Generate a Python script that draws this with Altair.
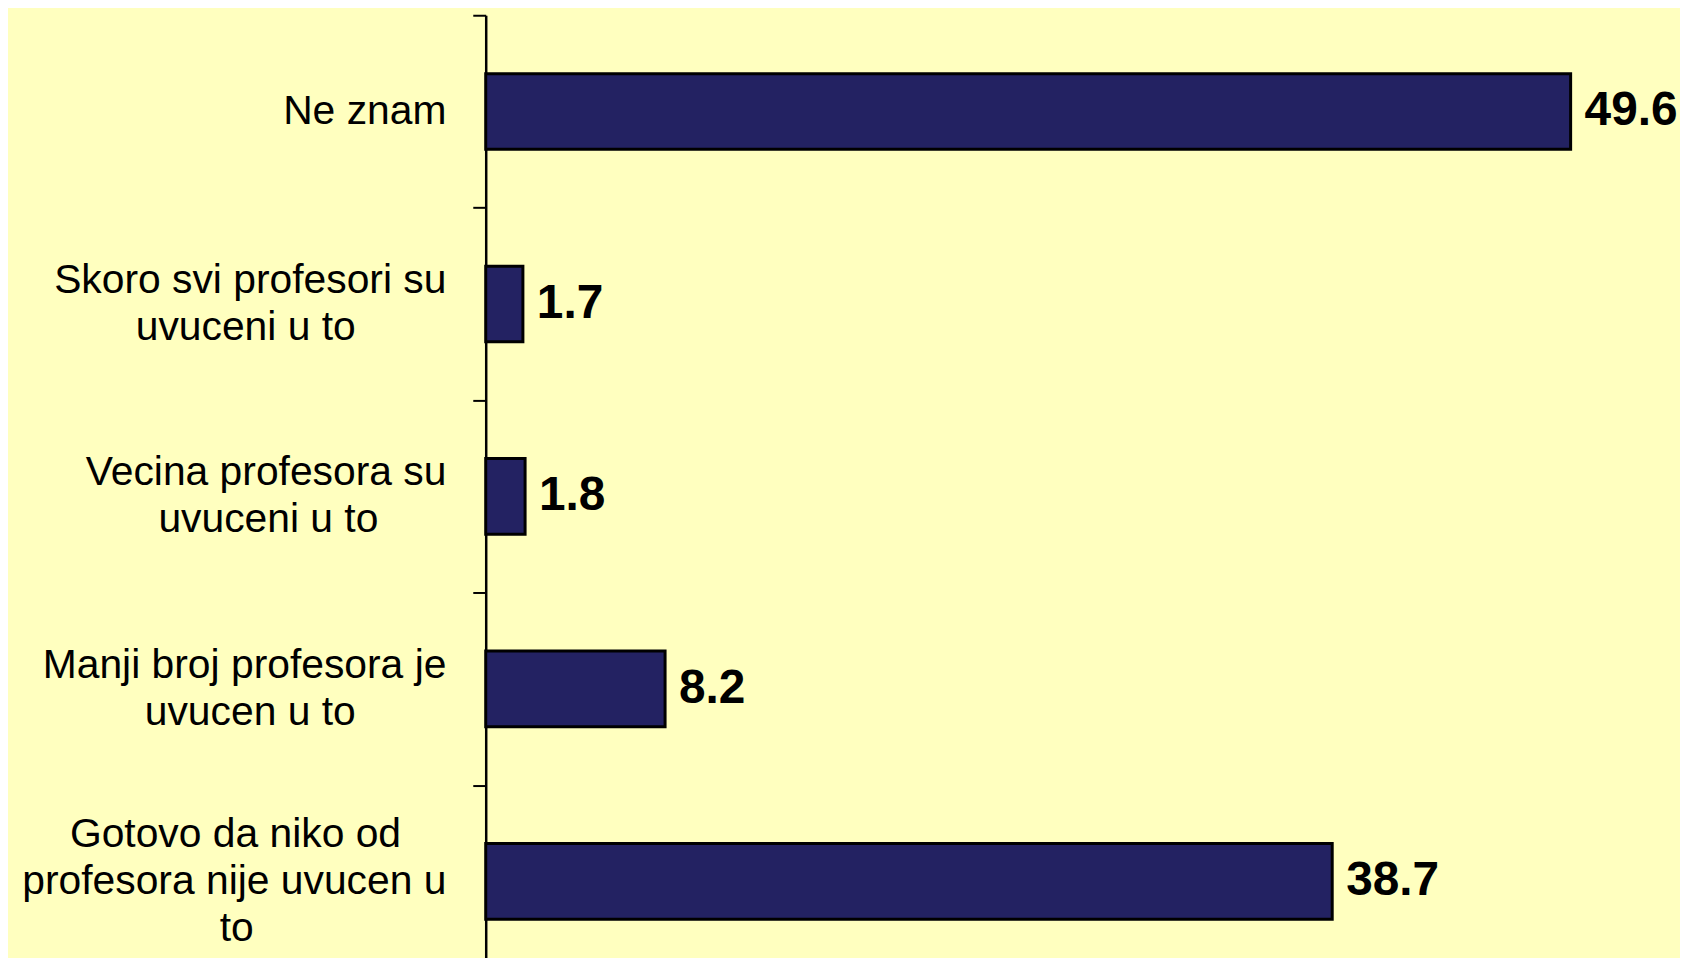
import altair as alt
import pandas as pd

# ---- data ----
cat_lines = [
    ["Ne znam"],
    ["Skoro svi profesori su", "uvuceni u to"],
    ["Vecina profesora su", "uvuceni u to"],
    ["Manji broj profesora je", "uvucen u to"],
    ["Gotovo da niko od", "profesora nije uvucen u", "to"],
]
values = [49.6, 1.7, 1.8, 8.2, 38.7]

# approximate Arial/Liberation Sans advance widths (em) used to centre
# the lines of each right-aligned axis label with non-breaking spaces
W = {" ": .278, "\u00a0": .278, "a": .556, "b": .556, "c": .5, "d": .556,
     "e": .556, "f": .278, "i": .222, "j": .222, "k": .5, "m": .833,
     "n": .556, "o": .556, "p": .556, "r": .333, "s": .5, "t": .278,
     "u": .556, "v": .5, "z": .5, "G": .778, "M": .833, "N": .722,
     "S": .667, "V": .667}


def tw(s):
    return sum(W.get(c, 0.556) for c in s)


def centred(lines):
    m = max(tw(l) for l in lines)
    out = []
    for l in lines:
        n = int(round((m - tw(l)) / 2 / 0.278))
        out.append(l + ("\u00a0" * n + "\u200b" if n else ""))
    return "|".join(out)


labels = [centred(l) for l in cat_lines]
df = pd.DataFrame({"cat": labels, "value": values})

LH = 47
y_enc = alt.Y(
    "cat:N",
    sort=labels,
    scale=alt.Scale(paddingInner=0, paddingOuter=0, range=[0, 967]),
    axis=alt.Axis(
        title=None,
        labelExpr="split(datum.label, '|')",
        labelFont="Liberation Sans",
        labelFontSize=41,
        labelColor="black",
        labelLineHeight=LH,
        labelPadding=27,
        labelLimit=0,
        labelAlign="right",
        labelBaseline="middle",
        labelOffset={
            "condition": [
                {"test": "length(split(datum.value, '|')) == 3", "value": -LH},
                {"test": "length(split(datum.value, '|')) == 2", "value": -LH / 2},
            ],
            "value": 0,
        },
        tickSize=13,
        tickWidth=2,
        tickColor="black",
        domainColor="black",
        domainWidth=2.5,
        tickBand="extent",
        grid=False,
    ),
)
x_enc = alt.X("value:Q", scale=alt.Scale(domain=[0, 54.6]), axis=None)

bars = alt.Chart(df).mark_bar(
    size=76, color="#232262", stroke="black", strokeWidth=3
).encode(x=x_enc, y=y_enc)

text = alt.Chart(df).mark_text(
    align="left", baseline="middle", dx=14,
    font="Liberation Sans", fontSize=48, fontWeight="bold", color="black"
).encode(x=x_enc, y=y_enc, text=alt.Text("value:Q", format=".1f"))

chart = (bars + text).properties(
    width=1200,
    height=945,
    autosize=alt.AutoSizeParams(type="none"),
    padding={"left": 480, "top": 5, "right": 0, "bottom": 0},
    background="#FFFFBF",
).configure_view(strokeWidth=0)

chart.save("out.html", embed_options={"renderer": "svg", "actions": False})
